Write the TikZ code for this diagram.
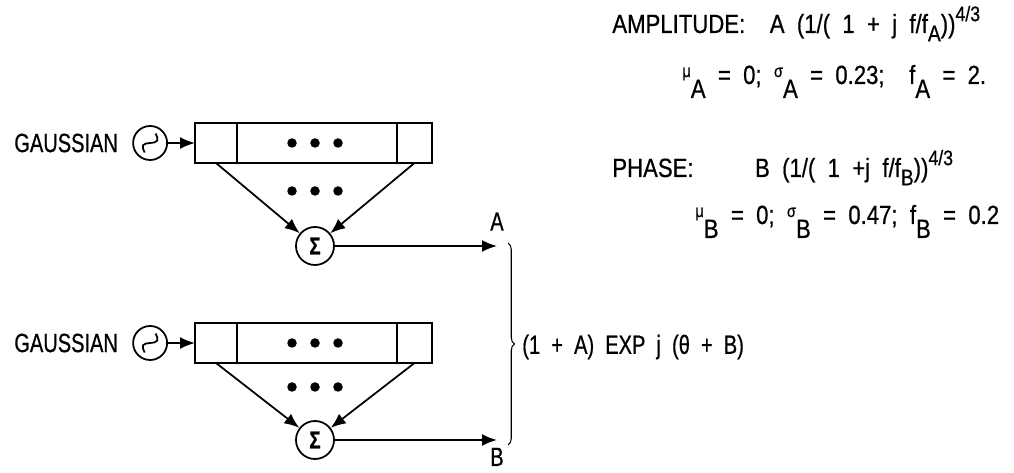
\documentclass[tikz,border=0pt]{standalone}
\usepackage{fontspec}
\setmainfont{Liberation Sans}[FakeStretch=0.76,WordSpace=2,FakeBold=0.6]
\newfontfamily\widefont{Liberation Sans}[FakeStretch=0.84,WordSpace=2,FakeBold=0.6]
\usetikzlibrary{arrows.meta,positioning,decorations.pathreplacing}
\newcommand{\lo}[1]{\raisebox{-1ex}{#1}}
\newcommand{\losm}[1]{\raisebox{-0.6ex}{\fontsize{13}{13}\selectfont #1}}
\newcommand{\hi}[1]{\raisebox{0.85ex}{\fontsize{12}{12}\selectfont #1}}
\newcommand{\sm}[1]{\raisebox{0.5ex}{\fontsize{10}{10}\selectfont #1}}
\tikzset{
  every node/.style={font=\fontsize{15}{17}\selectfont},
  noise/.style={draw,circle,line width=1pt,minimum size=6.8mm,inner sep=0pt},
  wave/.style={line width=1pt},
  adder/.style={draw,circle,line width=1pt,minimum size=7.6mm,inner sep=0pt,font=\fontsize{14}{14}\selectfont\bfseries},
  cell/.style={draw,line width=1pt,minimum height=8mm,inner sep=0pt,outer sep=0pt},
  arrow/.style={-{Latex[length=3mm,width=2.4mm]},line width=1pt},
  lbl/.style={anchor=west,inner sep=0pt},
  param/.style={anchor=base west,inner sep=0pt,font=\fontsize{15}{17}\widefont},
  brace/.style={decorate,decoration={brace,amplitude=1.3mm},line width=0.6pt}
}
\begin{document}
\begin{tikzpicture}[x=0.2mm,y=-0.2mm]
  \useasboundingbox (0,0) rectangle (1014,473);
  % upper channel: amplitude
  \node[cell,minimum width=8.4mm] (tapA1) at (216,143) {};
  \node[cell,minimum width=32mm,right=0pt of tapA1] (tapA2) {};
  \node[cell,minimum width=7mm,right=0pt of tapA2] (tapA3) {};
  \node[noise,left=5.4mm of tapA1] (srcA) {};
  \draw[wave,shift={(srcA.center)},rotate=60] (-2.2mm,0) sin (-1.1mm,1mm) cos (0,0) sin (1.1mm,-1mm) cos (2.2mm,0);
  \node[lbl,anchor=east,left=2.8mm of srcA] (gaussA) {GAUSSIAN};
  \node[adder] (sumA) at (315,246) {Σ};
  \coordinate (outA) at (497,246);
  \node[inner sep=0pt,above=3mm of outA] (labA) {A};
  \foreach \x in {292,315,338} {
    \fill (\x,143) circle (0.95mm);
    \fill (\x,191) circle (0.95mm);
  }
  \draw[arrow] (srcA) -- (tapA1);
  \draw[arrow] (tapA1.south) -- (sumA);
  \draw[arrow] (tapA3.south) -- (sumA);
  \draw[arrow] (sumA) -- (outA);

  % lower channel: phase
  \node[cell,minimum width=8.4mm] (tapB1) at (216,343) {};
  \node[cell,minimum width=32mm,right=0pt of tapB1] (tapB2) {};
  \node[cell,minimum width=7mm,right=0pt of tapB2] (tapB3) {};
  \node[noise,left=5.4mm of tapB1] (srcB) {};
  \draw[wave,shift={(srcB.center)},rotate=60] (-2.2mm,0) sin (-1.1mm,1mm) cos (0,0) sin (1.1mm,-1mm) cos (2.2mm,0);
  \node[lbl,anchor=east,left=2.8mm of srcB] (gaussB) {GAUSSIAN};
  \node[adder] (sumB) at (315,440) {Σ};
  \coordinate (outB) at (497,440);
  \node[inner sep=0pt,below=1.5mm of outB] (labB) {B};
  \foreach \x in {292,315,338} {
    \fill (\x,343) circle (0.95mm);
    \fill (\x,387) circle (0.95mm);
  }
  \draw[arrow] (srcB) -- (tapB1);
  \draw[arrow] (tapB1.south) -- (sumB);
  \draw[arrow] (tapB3.south) -- (sumB);
  \draw[arrow] (sumB) -- (outB);

  % combined output
  \coordinate (braceTop) at (508,243);
  \coordinate (braceBot) at (508,445);
  \draw[brace] (braceTop) -- (braceBot);
  \node[lbl] (result) at (522,347) {(1 + A) EXP j (θ + B)};

  % filter parameters
  \node[param] (ampl) at (612,33) {AMPLITUDE:~~A (1/(~1 + j f/f\losm{A}))\hi{4/3}};
  \node[param] (parA) at (682,84) {\sm{μ}\lo{A}~=~0;~\sm{σ}\lo{A}~=~0.23;~~f\lo{A}~=~2.};
  \node[param] (phase) at (612,177) {PHASE:~~~~~B~(1/(~1 +j~f/f\losm{B}))\hi{4/3}};
  \node[param] (parB) at (695,224) {\sm{μ}\lo{B}~=~0;~\sm{σ}\lo{B}~=~0.47;~f\lo{B}~=~0.2};
\end{tikzpicture}
\end{document}
